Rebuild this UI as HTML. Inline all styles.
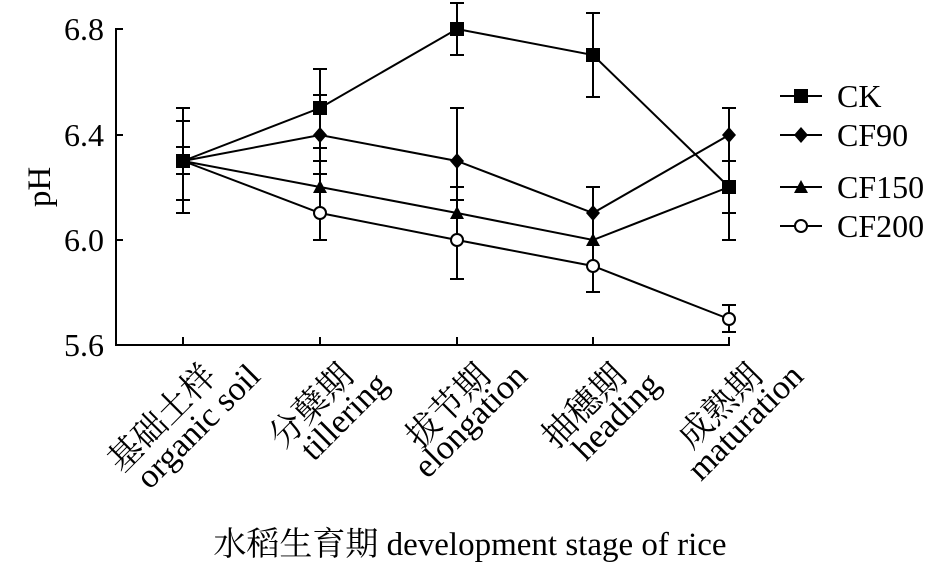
<!DOCTYPE html>
<html><head><meta charset="utf-8"><style>
html,body{margin:0;padding:0;background:#fff;}
svg{display:block;}
text{font-family:"Liberation Serif","Noto Serif CJK SC","Noto Sans CJK SC",serif;fill:#000;}
</style></head><body>
<svg width="945" height="566" viewBox="0 0 945 566" xmlns="http://www.w3.org/2000/svg">
<g stroke="#000" stroke-width="2" fill="none">
<line x1="116" y1="28" x2="116" y2="346"/>
<line x1="115" y1="345" x2="730" y2="345"/>
<line x1="116" y1="29" x2="123" y2="29"/>
<line x1="116" y1="135" x2="123" y2="135"/>
<line x1="116" y1="240" x2="123" y2="240"/>
<line x1="183" y1="345" x2="183" y2="337"/>
<line x1="320" y1="345" x2="320" y2="337"/>
<line x1="457" y1="345" x2="457" y2="337"/>
<line x1="593" y1="345" x2="593" y2="337"/>
<line x1="729" y1="345" x2="729" y2="337"/>
</g>
<g font-size="32" text-anchor="end">
<text x="104" y="40">6.8</text>
<text x="104" y="146">6.4</text>
<text x="104" y="251">6.0</text>
<text x="104" y="356">5.6</text>
</g>
<text x="50" y="187" font-size="33" text-anchor="middle" transform="rotate(-90 50 187)">pH</text>
<g stroke="#000" stroke-width="2" fill="none">
<line x1="183" y1="108" x2="183" y2="213"/>
<line x1="176" y1="108" x2="190" y2="108"/><line x1="176" y1="121" x2="190" y2="121"/><line x1="176" y1="147" x2="190" y2="147"/><line x1="176" y1="174" x2="190" y2="174"/><line x1="176" y1="200" x2="190" y2="200"/><line x1="176" y1="213" x2="190" y2="213"/>
<line x1="320" y1="69" x2="320" y2="240"/>
<line x1="313" y1="69" x2="327" y2="69"/><line x1="313" y1="95" x2="327" y2="95"/><line x1="313" y1="148" x2="327" y2="148"/><line x1="313" y1="161" x2="327" y2="161"/><line x1="313" y1="174" x2="327" y2="174"/><line x1="313" y1="240" x2="327" y2="240"/>
<line x1="457" y1="3" x2="457" y2="55"/>
<line x1="457" y1="108" x2="457" y2="279"/>
<line x1="450" y1="3" x2="464" y2="3"/><line x1="450" y1="55" x2="464" y2="55"/><line x1="450" y1="108" x2="464" y2="108"/><line x1="450" y1="187" x2="464" y2="187"/><line x1="450" y1="200" x2="464" y2="200"/><line x1="450" y1="279" x2="464" y2="279"/>
<line x1="593" y1="13" x2="593" y2="97"/>
<line x1="593" y1="187" x2="593" y2="292"/>
<line x1="586" y1="13" x2="600" y2="13"/><line x1="586" y1="97" x2="600" y2="97"/><line x1="586" y1="187" x2="600" y2="187"/><line x1="586" y1="292" x2="600" y2="292"/>
<line x1="729" y1="108" x2="729" y2="240"/>
<line x1="722" y1="108" x2="736" y2="108"/><line x1="722" y1="161" x2="736" y2="161"/><line x1="722" y1="213" x2="736" y2="213"/><line x1="722" y1="240" x2="736" y2="240"/>
<line x1="729" y1="305" x2="729" y2="332"/>
<line x1="722" y1="305" x2="736" y2="305"/><line x1="722" y1="332" x2="736" y2="332"/>
</g>
<g stroke="#000" stroke-width="2" fill="none">
<polyline points="183,161 320,108 457,29 593,55 729,187"/>
<polyline points="183,161 320,135 457,161 593,213 729,135"/>
<polyline points="183,161 320,187 457,213 593,240 729,187"/>
<polyline points="183,161 320,213 457,240 593,266 729,319"/>
</g>
<g fill="#000">
<rect x="176" y="154" width="14" height="14"/>
<rect x="313" y="101" width="14" height="14"/>
<rect x="450" y="22" width="14" height="14"/>
<rect x="586" y="48" width="14" height="14"/>
<rect x="722" y="180" width="14" height="14"/>
<polygon points="320,127 327,135 320,143 313,135"/>
<polygon points="457,153 464,161 457,169 450,161"/>
<polygon points="593,205 600,213 593,221 586,213"/>
<polygon points="729,127 736,135 729,143 722,135"/>
<polygon points="320,180 327,193 313,193"/>
<polygon points="457,206 464,219 450,219"/>
<polygon points="593,233 600,246 586,246"/>
</g>
<g fill="#fff" stroke="#000" stroke-width="2">
<circle cx="320" cy="213" r="6"/>
<circle cx="457" cy="240" r="6"/>
<circle cx="593" cy="266" r="6"/>
<circle cx="729" cy="319" r="6"/>
</g>
<g stroke="#000" stroke-width="2">
<line x1="780" y1="96" x2="822" y2="96"/>
<line x1="780" y1="135" x2="822" y2="135"/>
<line x1="780" y1="187" x2="822" y2="187"/>
<line x1="780" y1="226" x2="822" y2="226"/>
</g>
<rect x="794" y="89" width="14" height="14" fill="#000"/>
<polygon points="801,127 808,135 801,143 794,135" fill="#000"/>
<polygon points="801,180 808,193 794,193" fill="#000"/>
<circle cx="801" cy="226" r="6" fill="#fff" stroke="#000" stroke-width="2"/>
<g font-size="32">
<text x="837" y="107">CK</text>
<text x="837" y="146">CF90</text>
<text x="837" y="198">CF150</text>
<text x="837" y="237">CF200</text>
</g>
<g font-size="34" text-anchor="end">
<text transform="translate(218,378) rotate(-45)">基础土样</text>
<text transform="translate(262,378) rotate(-45)">organic soil</text>
<text transform="translate(355,378) rotate(-45)">分蘖期</text>
<text transform="translate(390,386) rotate(-45)">tillering</text>
<text transform="translate(492,378) rotate(-45)">拔节期</text>
<text transform="translate(529,378) rotate(-45)">elongation</text>
<text transform="translate(628,378) rotate(-45)">抽穗期</text>
<text transform="translate(662,386) rotate(-45)">heading</text>
<text transform="translate(764,378) rotate(-45)">成熟期</text>
<text transform="translate(805,378) rotate(-45)">maturation</text>
</g>
<text x="470" y="555" font-size="33" text-anchor="middle">水稻生育期 development stage of rice</text>
</svg>
</body></html>
